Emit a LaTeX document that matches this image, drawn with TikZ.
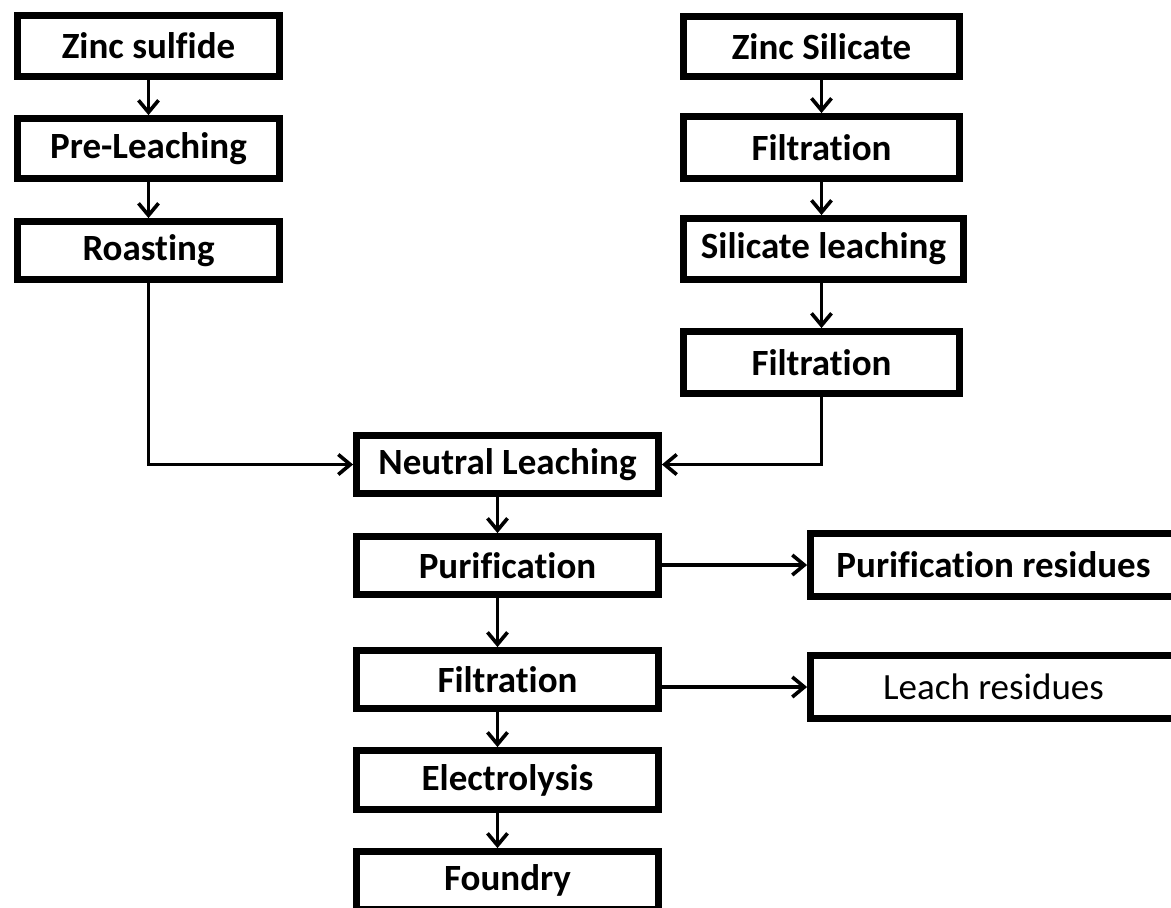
\documentclass[tikz,border=0pt]{standalone}
\usepackage{fontspec}
\setmainfont{Carlito}[Ligatures={NoCommon}]
\usetikzlibrary{arrows.meta}
\begin{document}
\begin{tikzpicture}[x=1pt,y=-1pt,
  box/.style={draw=black, line width=6.8pt, rectangle, inner sep=0pt, align=center,
    font=\fontsize{37}{42}\selectfont\bfseries, fill=white},
  conn/.style={draw=black, line width=3.6pt, -{Straight Barb[length=12pt,width=20pt]}}
]
\useasboundingbox (0,0) rectangle (1171,908);
\clip (0,0) rectangle (1171,908);
\fill[white] (0,0) rectangle (1171,908);

% left column
\node[box, minimum width=262pt, minimum height=61pt] (zs) at (148.5,46) {Zinc sulfide};
\node[box, minimum width=262pt, minimum height=60pt] (pl) at (148.5,148.5) {Pre-Leaching};
\node[box, minimum width=262pt, minimum height=58pt] (ro) at (148.5,250.5) {Roasting};

% right column
\node[box, minimum width=276pt, minimum height=60pt] (zsi) at (821.5,46.5) {Zinc Silicate};
\node[box, minimum width=276pt, minimum height=62pt] (f1) at (821.5,147.5) {Filtration};
\node[box, minimum width=280pt, minimum height=61pt] (sl) at (823.5,249) {Silicate leaching};
\node[box, minimum width=276pt, minimum height=62pt] (f2) at (821.5,362.5) {Filtration};

% center column
\node[box, minimum width=302pt, minimum height=58pt] (nl) at (507.5,464.5) {Neutral Leaching};
\node[box, minimum width=302pt, minimum height=58pt] (pu) at (507.5,565.5) {Purification};
\node[box, minimum width=302pt, minimum height=58pt] (fi) at (507.5,679.5) {Filtration};
\node[box, minimum width=302pt, minimum height=59pt] (el) at (507.5,780) {Electrolysis};
\node[box, minimum width=302pt, minimum height=58pt] (fo) at (507.5,880.5) {Foundry};

% residues
\node[box, minimum width=366pt, minimum height=63pt] (pr) at (993.5,565) {Purification residues};
\node[box, minimum width=366pt, minimum height=63pt, font=\fontsize{37}{42}\selectfont] (lr) at (993.5,687) {Leach residues};

% connectors
\draw[conn] (zs.south) -- (pl.north);
\draw[conn] (pl.south) -- (ro.north);
\draw[conn] (zsi.south) -- (f1.north);
\draw[conn] (f1.south) -- (f1.south |- sl.north);
\draw[conn] (f1.south |- sl.south) -- (f2.north);
\draw[conn] (ro.south) |- (nl.west);
\draw[conn] (f2.south) |- (nl.east);
\draw[conn] ([xshift=-10pt]nl.south) -- ([xshift=-10pt]pu.north);
\draw[conn] ([xshift=-10pt]pu.south) -- ([xshift=-10pt]fi.north);
\draw[conn] ([xshift=-10pt]fi.south) -- ([xshift=-10pt]el.north);
\draw[conn] ([xshift=-10pt]el.south) -- ([xshift=-10pt]fo.north);
\draw[conn] (pu.east |- pr.west) -- (pr.west);
\draw[conn] (fi.east |- lr.west) -- (lr.west);
\end{tikzpicture}
\end{document}
